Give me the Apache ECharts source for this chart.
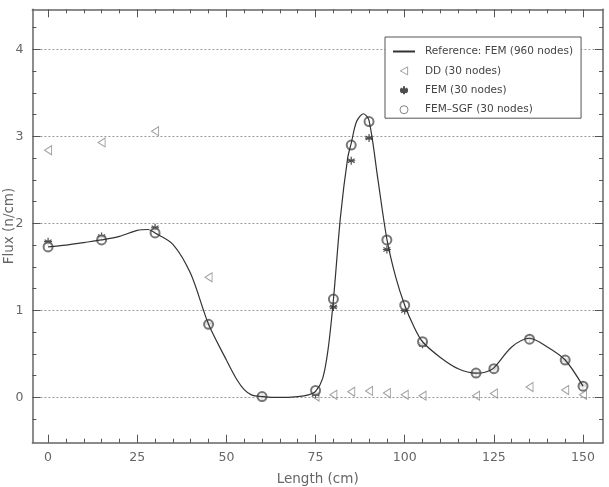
<!DOCTYPE html>
<html>
<head>
<meta charset="UTF-8">
<script src="https://cdn.jsdelivr.net/npm/echarts@6/dist/echarts.min.js"></script>
<style>
  html, body { margin: 0; padding: 0; background: #fff; }
  #chart { width: 609px; height: 487px; }
</style>
</head>
<body>
<div id="chart"></div>
<script>
// reference solution, fine mesh
const refX    = [0, 5, 10, 15, 20, 25, 28, 30, 35, 40, 45, 50, 53, 55, 57, 60, 65, 70, 73, 75, 77, 78.5, 80, 82, 84, 85, 86.5, 88.4, 90, 92.5, 95, 97.5, 100, 102.5, 105, 110, 115, 120, 122.5, 125, 130, 135, 140, 145, 150];
const refFlux = [1.73, 1.75, 1.78, 1.81, 1.85, 1.92, 1.93, 1.89, 1.76, 1.42, 0.84, 0.43, 0.2, 0.09, 0.03, 0.01, 0.0, 0.01, 0.03, 0.07, 0.22, 0.55, 1.12, 2.08, 2.75, 2.92, 3.17, 3.26, 3.18, 2.5, 1.82, 1.38, 1.06, 0.82, 0.64, 0.46, 0.33, 0.28, 0.29, 0.34, 0.58, 0.68, 0.58, 0.43, 0.13];

// coarse mesh results
const ddX      = [0, 15, 30, 45, 75, 80, 85, 90, 95, 100, 105, 120, 125, 135, 145, 150];
const ddFlux   = [2.84, 2.93, 3.06, 1.38, 0.01, 0.03, 0.065, 0.075, 0.05, 0.03, 0.02, 0.02, 0.045, 0.12, 0.085, 0.03];
const nodeX    = [0, 15, 30, 45, 60, 75, 80, 85, 90, 95, 100, 105, 120, 125, 135, 145, 150];
const femFlux  = [1.79, 1.85, 1.95, 0.85, 0.01, 0.04, 1.04, 2.72, 2.98, 1.70, 1.0, 0.61, 0.28, 0.33, 0.68, 0.43, 0.14];
const sgfFlux  = [1.73, 1.81, 1.89, 0.84, 0.01, 0.08, 1.13, 2.90, 3.17, 1.81, 1.06, 0.64, 0.28, 0.33, 0.67, 0.43, 0.13];

const xMajor = [0, 25, 50, 75, 100, 125, 150];
const xMinor = [5, 10, 15, 20, 30, 35, 40, 45, 55, 60, 65, 70, 80, 85, 90, 95, 105, 110, 115, 120, 130, 135, 140, 145];
const yMajor = [0, 1, 2, 3, 4];
const yMinor = [-0.25, 0.25, 0.5, 0.75, 1.25, 1.5, 1.75, 2.25, 2.5, 2.75, 3.25, 3.5, 3.75, 4.25];

const pairs = (xs, ys) => xs.map((x, i) => [x, ys[i]]);

const font = 'DejaVu Sans';
const axisGray = '#666';

function xAx(pos, ticks, len, withLine, withLabel) {
  return {
    type: 'value', position: pos, min: -4.4, max: 155.6,
    axisLine: { show: withLine, onZero: false, lineStyle: { color: axisGray, width: 1.5 } },
    axisTick: { show: true, inside: true, length: len, customValues: ticks, lineStyle: { color: '#555', width: 1 } },
    axisLabel: { show: withLabel, customValues: ticks, margin: 9, color: '#666', fontFamily: font, fontSize: 12.5 },
    splitLine: { show: false },
    name: withLabel ? 'Length (cm)' : '',
    nameLocation: 'middle', nameGap: 30, nameMoveOverlap: false,
    nameTextStyle: { color: '#666', fontFamily: font, fontSize: 13.5 }
  };
}

function yAx(pos, ticks, len, withLine, withLabel, grid) {
  return {
    type: 'value', position: pos, min: -0.52, max: 4.46,
    axisLine: { show: withLine, onZero: false, lineStyle: { color: axisGray, width: 1.5 } },
    axisTick: { show: true, inside: true, length: len, customValues: ticks, lineStyle: { color: '#555', width: 1 } },
    axisLabel: { show: withLabel, customValues: ticks, margin: 9, color: '#666', fontFamily: font, fontSize: 12.5 },
    splitLine: { show: grid, lineStyle: { color: '#999', type: [2, 2], width: 1 } },
    name: withLabel ? 'Flux (n/cm)' : '',
    nameLocation: 'middle', nameGap: 16, nameMoveOverlap: false,
    nameTextStyle: { color: '#666', fontFamily: font, fontSize: 13.5 }
  };
}

const refName = 'Reference: FEM (960 nodes)';
const ddName = 'DD (30 nodes)';
const femName = 'FEM (30 nodes)';
const sgfName = 'FEM\u2013SGF (30 nodes)';

const chart = echarts.init(document.getElementById('chart'));
chart.setOption({
  animation: false,
  backgroundColor: '#fff',
  grid: { left: 32.4, top: 9.3, right: 6, bottom: 44.3, outerBoundsMode: 'none', containLabel: false },
  xAxis: [
    xAx('bottom', xMajor, 8, true, true),
    xAx('bottom', xMinor, 4, false, false),
    xAx('top', xMajor, 8, true, false),
    xAx('top', xMinor, 4, false, false)
  ],
  yAxis: [
    yAx('left', yMajor, 8, true, true, true),
    yAx('left', yMinor, 4, false, false, false),
    yAx('right', yMajor, 8, true, false, false),
    yAx('right', yMinor, 4, false, false, false)
  ],
  legend: {
    orient: 'vertical', left: 385, top: 37,
    backgroundColor: '#fff', borderColor: '#555', borderWidth: 1,
    padding: [9, 8, 3, 7], itemGap: 8.4, itemWidth: 22, itemHeight: 8,
    textStyle: { color: '#444', fontFamily: font, fontSize: 10.5, padding: [0, 0, 0, 5] },
    data: [
      { name: refName, itemStyle: { opacity: 0 } },
      { name: ddName, itemStyle: { borderWidth: 1 } },
      { name: femName },
      { name: sgfName, icon: 'path://M10 5A5 5 0 1 1 0 5A5 5 0 1 1 10 5Z', itemStyle: { color: 'rgba(0,0,0,0)', borderColor: '#666', borderWidth: 1 } }
    ]
  },
  series: [
    {
      name: refName, type: 'line', smooth: 0.3,
      symbol: 'none', data: pairs(refX, refFlux),
      lineStyle: { color: '#333', width: 1.2 }, itemStyle: { color: '#333' }
    },
    {
      name: ddName, type: 'scatter', data: pairs(ddX, ddFlux),
      symbol: 'path://M10 0L0 5.5L10 11Z', symbolSize: [7, 9],
      itemStyle: { color: 'rgba(0,0,0,0)', borderColor: '#888', borderWidth: 1 }
    },
    {
      name: femName, type: 'scatter', data: pairs(nodeX, femFlux),
      symbol: 'path://M5 0L5 10M0.7 2.5L9.3 7.5M0.7 7.5L9.3 2.5M0 5L10 5', symbolSize: 8,
      itemStyle: { color: '#222', borderColor: '#222', borderWidth: 1.2 }
    },
    {
      name: sgfName, type: 'scatter', data: pairs(nodeX, sgfFlux),
      symbol: 'emptyCircle', symbolSize: 9,
      itemStyle: { color: '#555', borderColor: '#555', borderWidth: 1 }
    }
  ]
});
</script>
</body>
</html>
